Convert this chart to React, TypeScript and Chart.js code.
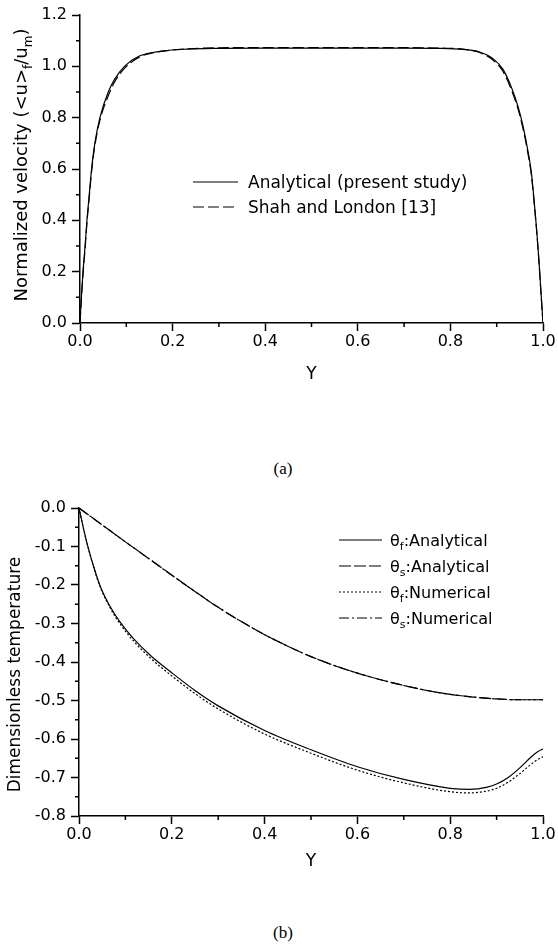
import React, { useEffect, useRef } from "react";
import { Chart, registerables } from "chart.js";

Chart.register(...registerables);

const FONT = "'DejaVu Sans', 'Liberation Sans', Arial, sans-serif";

// ---------- (a) velocity profile ----------
const velY = [0, 0.003, 0.0065, 0.011, 0.015, 0.02, 0.025, 0.032, 0.043, 0.061, 0.075, 0.096, 0.128, 0.18, 0.23, 0.3, 0.4, 0.5, 0.6, 0.7, 0.78, 0.827, 0.863, 0.892, 0.913, 0.931, 0.946, 0.957, 0.967, 0.975, 0.98, 0.986, 0.991, 0.996, 1];
const velAnalytical = [0, 0.1, 0.2, 0.3, 0.4, 0.5, 0.6, 0.7, 0.8, 0.9, 0.95, 1.0, 1.04, 1.06, 1.067, 1.07, 1.071, 1.071, 1.071, 1.071, 1.07, 1.066, 1.056, 1.03, 0.99, 0.922, 0.844, 0.766, 0.675, 0.584, 0.493, 0.37, 0.25, 0.11, 0];
const velShah = [0, 0.095, 0.19, 0.29, 0.39, 0.49, 0.59, 0.69, 0.79, 0.885, 0.94, 0.992, 1.036, 1.059, 1.068, 1.072, 1.073, 1.073, 1.073, 1.073, 1.071, 1.067, 1.054, 1.025, 0.982, 0.912, 0.834, 0.756, 0.665, 0.575, 0.485, 0.365, 0.245, 0.105, 0];
const legendA = ["Analytical (present study)", "Shah and London [13]"];
const yTitleA = "Normalized velocity (<u>_f/u_m)";
const minorXTicks = [0.1, 0.3, 0.5, 0.7, 0.9];
const minorYTicksA = [0.1, 0.3, 0.5, 0.7, 0.9, 1.1];

// ---------- (b) temperature profile ----------
const tempYf = [0, 0.01, 0.018, 0.031, 0.046, 0.067, 0.089, 0.118, 0.154, 0.2, 0.25, 0.3, 0.4, 0.5, 0.6, 0.7, 0.8, 0.842, 0.88, 0.9, 0.925, 0.95, 0.975, 0.99, 1.0];
const thetaFAnalytical = [0, -0.055, -0.095, -0.15, -0.204, -0.256, -0.297, -0.34, -0.383, -0.428, -0.474, -0.514, -0.578, -0.628, -0.672, -0.705, -0.728, -0.731, -0.725, -0.717, -0.7, -0.675, -0.646, -0.632, -0.626];
const thetaFNumerical = [0, -0.055, -0.095, -0.151, -0.206, -0.259, -0.302, -0.346, -0.39, -0.436, -0.482, -0.522, -0.587, -0.637, -0.681, -0.714, -0.737, -0.74, -0.735, -0.728, -0.712, -0.69, -0.665, -0.652, -0.646];
const tempYs = [0, 0.05, 0.1, 0.15, 0.2, 0.25, 0.3, 0.35, 0.4, 0.45, 0.5, 0.55, 0.6, 0.65, 0.7, 0.75, 0.8, 0.85, 0.9, 0.95, 1.0];
const thetaSAnalytical = [0, -0.044, -0.088, -0.131, -0.174, -0.217, -0.258, -0.295, -0.329, -0.359, -0.386, -0.409, -0.429, -0.446, -0.461, -0.474, -0.484, -0.491, -0.496, -0.498, -0.498];
const thetaSNumerical = [0, -0.044, -0.088, -0.131, -0.175, -0.217, -0.258, -0.295, -0.329, -0.359, -0.386, -0.409, -0.429, -0.446, -0.461, -0.474, -0.484, -0.491, -0.496, -0.498, -0.498];
const legendB = ["θ_f:Analytical", "θ_s:Analytical", "θ_f:Numerical", "θ_s:Numerical"];
const yTitleB = "Dimensionless temperature";
const minorYTicksB = [-0.05, -0.15, -0.25, -0.35, -0.45, -0.55, -0.65, -0.75];

// ---------- helpers ----------
type Seg = { t: string; sub: boolean };
function splitRich(text: string): Seg[] {
  const parts: Seg[] = [];
  let buf = "";
  for (let i = 0; i < text.length; i++) {
    if (text[i] === "_" && i + 1 < text.length) {
      if (buf) parts.push({ t: buf, sub: false });
      buf = "";
      parts.push({ t: text[i + 1], sub: true });
      i++;
    } else buf += text[i];
  }
  if (buf) parts.push({ t: buf, sub: false });
  return parts;
}

function drawRich(ctx: CanvasRenderingContext2D, text: string, x: number, baseline: number, size: number, center: boolean) {
  const parts = splitRich(text);
  const subSize = Math.round(size * 0.68);
  const widths = parts.map((p) => {
    ctx.font = `${p.sub ? subSize : size}px ${FONT}`;
    return ctx.measureText(p.t).width;
  });
  const total = widths.reduce((a, b) => a + b, 0);
  let cx = center ? x - total / 2 : x;
  ctx.textAlign = "left";
  ctx.textBaseline = "alphabetic";
  ctx.fillStyle = "#000";
  parts.forEach((p, i) => {
    ctx.font = `${p.sub ? subSize : size}px ${FONT}`;
    ctx.fillText(p.t, cx, p.sub ? baseline + size * 0.24 : baseline);
    cx += widths[i];
  });
}

const decorPlugin = {
  id: "decor",
  afterDraw(chart: any, _args: any, opts: any) {
    const ctx: CanvasRenderingContext2D = chart.ctx;
    const area = chart.chartArea;
    const xs = chart.scales.x;
    const ys = chart.scales.y;
    ctx.save();
    ctx.strokeStyle = "#000";
    ctx.lineWidth = 1.5;
    ctx.setLineDash([]);
    ctx.beginPath();
    (opts.minorX || []).forEach((v: number) => {
      const p = xs.getPixelForValue(v);
      ctx.moveTo(p, area.bottom);
      ctx.lineTo(p, area.bottom + opts.minorLen);
    });
    (opts.minorY || []).forEach((v: number) => {
      const p = ys.getPixelForValue(v);
      ctx.moveTo(area.left, p);
      ctx.lineTo(area.left - opts.minorLen, p);
    });
    ctx.stroke();

    if (opts.yTitle) {
      const t = opts.yTitle;
      ctx.save();
      ctx.translate(t.x, t.y);
      ctx.rotate(-Math.PI / 2);
      drawRich(ctx, t.text, 0, t.size * 0.36, t.size, true);
      ctx.restore();
    }

    const lg = opts.legend;
    if (lg) {
      chart.data.datasets.forEach((ds: any, i: number) => {
        const yc = lg.y + i * lg.row;
        ctx.beginPath();
        ctx.strokeStyle = "#000";
        ctx.lineWidth = ds.borderWidth;
        ctx.setLineDash(ds.borderDash || []);
        ctx.moveTo(lg.x, yc);
        ctx.lineTo(lg.x + lg.sample, yc);
        ctx.stroke();
        ctx.setLineDash([]);
        drawRich(ctx, ds.label, lg.x + lg.sample + lg.gap, yc + lg.size * 0.36, lg.size, false);
      });
    }
    ctx.restore();
  },
};

const fmt = (v: any) => (Math.round(Number(v) * 10) / 10).toFixed(1);

function makeScales(yMin: number, yMax: number, yStep: number, yWidth: number, xHeight: number) {
  const tickFont = { family: FONT, size: 16 };
  const grid = { display: true, drawOnChartArea: false, drawTicks: true, tickLength: 8, tickWidth: 1.5, tickColor: "#000", color: "#000" };
  const border = { display: true, color: "#000", width: 1.5 };
  return {
    x: {
      type: "linear",
      min: 0,
      max: 1,
      grid,
      border,
      ticks: { stepSize: 0.2, color: "#000", font: tickFont, padding: 1, maxRotation: 0, autoSkip: false, callback: fmt },
      title: { display: true, text: "Y", color: "#000", font: { family: FONT, size: 17 }, padding: 0 },
      afterFit: (s: any) => {
        s.height = xHeight;
      },
    },
    y: {
      type: "linear",
      min: yMin,
      max: yMax,
      grid,
      border,
      ticks: { stepSize: yStep, color: "#000", font: tickFont, padding: 5, autoSkip: false, callback: fmt },
      afterFit: (s: any) => {
        s.width = yWidth;
      },
    },
  };
}

const ds = (label: string, xs: number[], ys: number[], dash: number[]) => ({
  label,
  data: xs.map((x, i) => ({ x, y: ys[i] })),
  borderColor: "#000",
  borderWidth: 1.2,
  borderDash: dash,
  pointRadius: 0,
  fill: false,
  cubicInterpolationMode: "monotone",
});

function ChartCanvas({ config, width, height, top }: { config: any; width: number; height: number; top: number }) {
  const ref = useRef<HTMLCanvasElement>(null);
  useEffect(() => {
    const chart = new Chart(ref.current as HTMLCanvasElement, config);
    return () => chart.destroy();
  }, []);
  return <canvas ref={ref} width={width} height={height} style={{ position: "absolute", left: 0, top, width, height }} />;
}

const configA = {
  type: "line",
  data: {
    datasets: [ds(legendA[0], velY, velAnalytical, []), ds(legendA[1], velY, velShah, [11, 4])],
  },
  options: {
    responsive: false,
    animation: false,
    devicePixelRatio: 1,
    layout: { padding: { left: 0, right: 15, top: 15, bottom: 15 } },
    scales: makeScales(0, 1.2, 0.2, 80, 62),
    plugins: {
      legend: { display: false },
      tooltip: { enabled: false },
      decor: {
        minorX: minorXTicks,
        minorY: minorYTicksA,
        minorLen: 4,
        yTitle: { text: yTitleA, x: 21, y: 165, size: 18 },
        legend: { x: 193, y: 182, row: 25, sample: 45, gap: 10, size: 17 },
      },
    },
  },
  plugins: [decorPlugin],
};

const TOP_B = 480;
const configB = {
  type: "line",
  data: {
    datasets: [
      ds(legendB[0], tempYf, thetaFAnalytical, []),
      ds(legendB[1], tempYs, thetaSAnalytical, [12, 3]),
      ds(legendB[2], tempYf, thetaFNumerical, [2, 2]),
      ds(legendB[3], tempYs, thetaSNumerical, [10, 3, 2, 3]),
    ],
  },
  options: {
    responsive: false,
    animation: false,
    devicePixelRatio: 1,
    layout: { padding: { left: 0, right: 15, top: 28, bottom: 28 } },
    scales: makeScales(-0.8, 0, 0.1, 79, 56),
    plugins: {
      legend: { display: false },
      tooltip: { enabled: false },
      decor: {
        minorX: minorXTicks,
        minorY: minorYTicksB,
        minorLen: 4,
        yTitle: { text: yTitleB, x: 14, y: 674.5 - TOP_B, size: 17 },
        legend: { x: 339, y: 540 - TOP_B, row: 26, sample: 43, gap: 8, size: 16 },
      },
    },
  },
  plugins: [decorPlugin],
};

const captionStyle: React.CSSProperties = {
  position: "absolute",
  left: 0,
  width: 566,
  textAlign: "center",
  fontFamily: "'Liberation Serif', 'Times New Roman', serif",
  fontSize: 17,
  lineHeight: "20px",
  color: "#000",
};

export default function App() {
  return (
    <div style={{ position: "absolute", left: 0, top: 0, width: 558, height: 950, background: "#fff", overflow: "hidden" }}>
      <ChartCanvas config={configA} width={558} height={400} top={0} />
      <div style={{ ...captionStyle, top: 459 }}>(a)</div>
      <ChartCanvas config={configB} width={558} height={420} top={TOP_B} />
      <div style={{ ...captionStyle, top: 923 }}>(b)</div>
    </div>
  );
}
